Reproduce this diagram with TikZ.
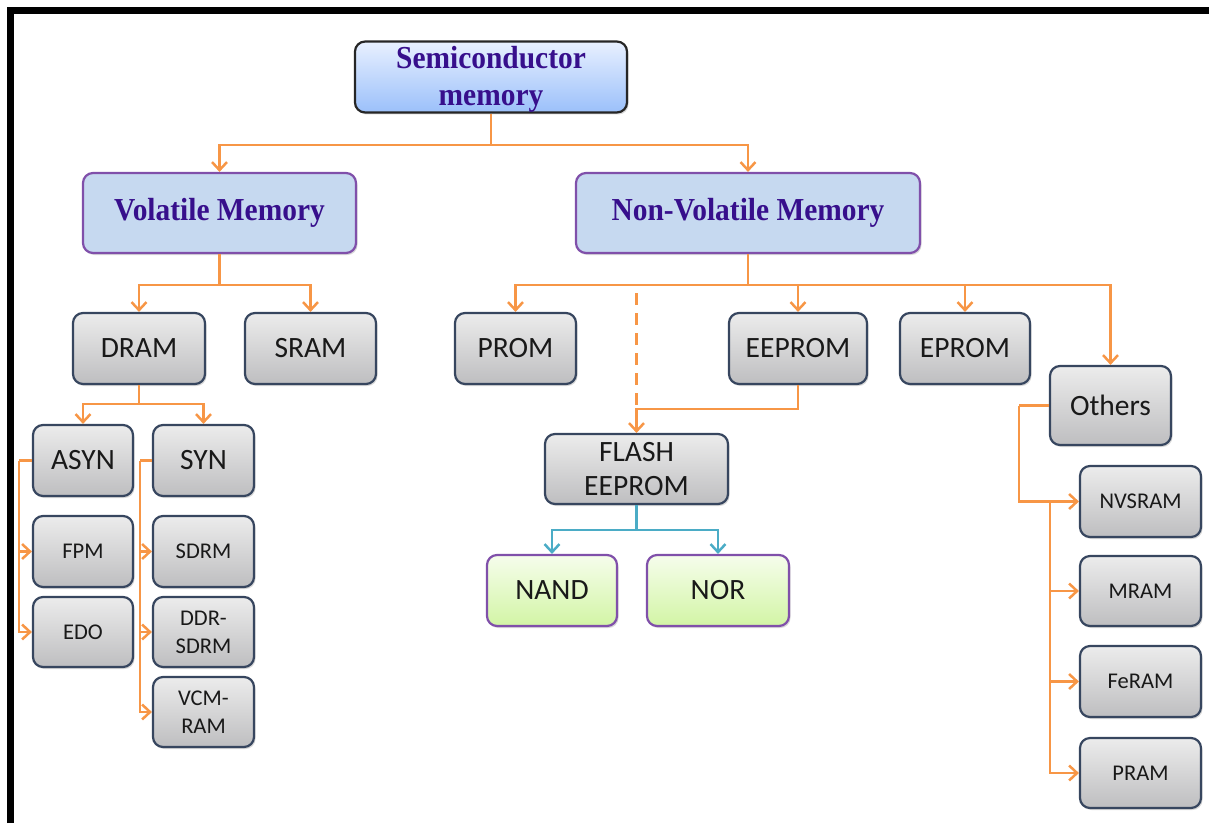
\documentclass[tikz,border=0pt]{standalone}
\usepackage{fontspec}
\setmainfont{Carlito}
\newfontfamily\hdfont[FakeStretch=0.92]{Liberation Serif}
\usetikzlibrary{arrows.meta,shadows}
\definecolor{orng}{RGB}{247,150,70}
\definecolor{tealc}{RGB}{75,172,198}
\definecolor{indig}{RGB}{55,15,140}
\definecolor{purp}{RGB}{128,80,170}
\definecolor{slate}{RGB}{55,70,95}
\definecolor{graytop}{RGB}{236,236,236}
\definecolor{graybot}{RGB}{190,190,192}
\definecolor{greentop}{RGB}{246,253,236}
\definecolor{greenbot}{RGB}{210,245,165}
\definecolor{bluefill}{RGB}{198,217,240}
\definecolor{semitop}{RGB}{232,240,255}
\definecolor{semibot}{RGB}{155,192,250}
\tikzset{
  box/.style={rounded corners=10pt, line width=2.2pt, inner sep=0pt, align=center,
    minimum height=71pt,
    drop shadow={shadow xshift=1.5pt, shadow yshift=-2pt, opacity=0.3}},
  graybox/.style={box, draw=slate, top color=graytop, bottom color=graybot,
    text=black!90, font=\fontsize{29.5}{34}\selectfont},
  smallbox/.style={graybox, minimum width=100pt, font=\fontsize{22.5}{28}\selectfont},
  greenbox/.style={box, draw=purp, top color=greentop, bottom color=greenbot,
    text=black!90, font=\fontsize{29.5}{34}\selectfont},
  bluebox/.style={box, draw=purp, fill=bluefill, minimum height=80pt,
    text=indig, font=\hdfont\bfseries\fontsize{32}{37}\selectfont},
  topbox/.style={box, draw=black!85, top color=semitop, bottom color=semibot,
    minimum height=70pt, text=indig, font=\hdfont\bfseries\fontsize{32}{37}\selectfont},
  conn/.style={draw=orng, line width=2.5pt, -{Straight Barb[length=8pt,width=15pt]}},
  plain/.style={draw=orng, line width=2.5pt},
  tconn/.style={draw=tealc, line width=2.5pt, -{Straight Barb[length=8pt,width=15pt]}},
  dashline/.style={draw=orng, line width=2.5pt, dash pattern=on 12pt off 8pt}
}
\begin{document}
\begin{tikzpicture}[x=1pt,y=-1pt]
\useasboundingbox (0,0) rectangle (1209,823);
\draw[line width=7pt] (10.5,823) -- (10.5,10.5) -- (1209,10.5);

% nodes
\node[topbox, minimum width=272pt] (semi) at (491,77) {\rule{0pt}{27pt}Semiconductor\\memory};
\node[bluebox, minimum width=273pt] (vol) at (219.5,213) {Volatile Memory};
\node[bluebox, minimum width=344pt] (nonvol) at (748,213) {Non-Volatile Memory};

\node[graybox, minimum width=132pt] (dram) at (139,348.5) {DRAM};
\node[graybox, minimum width=131pt] (sram) at (310.5,348.5) {SRAM};
\node[graybox, minimum width=121pt] (prom) at (515.5,348.5) {PROM};
\node[graybox, minimum width=138pt] (eeprom) at (798,348.5) {EEPROM};
\node[graybox, minimum width=130pt] (eprom) at (965,348.5) {EPROM};
\node[graybox, minimum width=121pt, minimum height=79pt] (others) at (1110.5,405.5) {Others};

\node[graybox, minimum width=100pt] (asyn) at (83,460.5) {ASYN};
\node[graybox, minimum width=101pt] (syn) at (203.5,460.5) {SYN};
\node[smallbox] (fpm) at (83,551.5) {FPM};
\node[smallbox, minimum height=70pt] (edo) at (83,632) {EDO};
\node[smallbox, minimum width=101pt] (sdrm) at (203.5,551.5) {SDRM};
\node[smallbox, minimum width=101pt, minimum height=70pt] (ddr) at (203.5,632) {DDR-\\SDRM};
\node[smallbox, minimum width=101pt, minimum height=70pt] (vcm) at (203.5,712) {VCM-\\RAM};

\node[graybox, minimum width=183pt, minimum height=70pt] (flash) at (636.5,469) {FLASH\\EEPROM};
\node[greenbox, minimum width=130pt] (nand) at (552,590.5) {NAND};
\node[greenbox, minimum width=142pt] (nor) at (718,590.5) {NOR};

\node[smallbox, minimum width=121pt] (nvsram) at (1140.5,501.5) {NVSRAM};
\node[smallbox, minimum width=121pt, minimum height=70pt] (mram) at (1140.5,591) {MRAM};
\node[smallbox, minimum width=121pt] (feram) at (1140.5,681.5) {FeRAM};
\node[smallbox, minimum width=121pt, minimum height=70pt] (pram) at (1140.5,773) {PRAM};

% junction coordinates
\coordinate (j1) at (491,145);
\coordinate (j2) at (219.5,285);
\coordinate (j3) at (748,285);
\coordinate (j4) at (139,404);
\coordinate (j5) at (636.5,530);
\coordinate (d1) at (636.5,293);
\coordinate (d2) at (636.5,409);
\coordinate (a1) at (19,460.5);
\coordinate (s1) at (140,460.5);
\coordinate (o1) at (1019,405.5);
\coordinate (o2) at (1050,501.5);

% connectors
\draw[plain] (semi.south) -- (j1);
\draw[conn] (j1) -| (vol.north);
\draw[conn] (j1) -| (nonvol.north);

\draw[plain] (vol.south) -- (j2);
\draw[conn] (j2) -| (dram.north);
\draw[conn] (j2) -| (sram.north);

\draw[plain] (nonvol.south) -- (j3);
\draw[conn] (j3) -| (prom.north);
\draw[conn] (j3) -| (eeprom.north);
\draw[conn] (j3) -| (eprom.north);
\draw[conn] (j3) -| (others.north);

\draw[dashline] (d1) -- (d2);
\draw[conn] (eeprom.south) |- (d2) -- (flash.north);

\draw[plain] (dram.south) -- (j4);
\draw[conn] (j4) -| (asyn.north);
\draw[conn] (j4) -| (syn.north);

\draw[plain] (asyn.west) -- (a1);
\draw[conn] (a1) |- (fpm.west);
\draw[conn] (a1) |- (edo.west);

\draw[plain] (syn.west) -- (s1);
\draw[conn] (s1) |- (sdrm.west);
\draw[conn] (s1) |- (ddr.west);
\draw[conn] (s1) |- (vcm.west);

\draw[draw=tealc, line width=2.5pt] (flash.south) -- (j5);
\draw[tconn] (j5) -| (nand.north);
\draw[tconn] (j5) -| (nor.north);

\draw[plain] (others.west) -- (o1);
\draw[conn] (o1) |- (nvsram.west);
\draw[conn] (o2) |- (mram.west);
\draw[conn] (o2) |- (feram.west);
\draw[conn] (o2) |- (pram.west);
\end{tikzpicture}
\end{document}
